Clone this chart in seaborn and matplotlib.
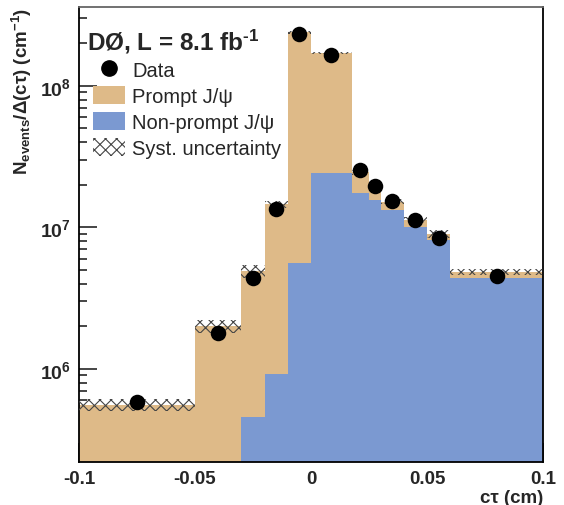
import matplotlib
matplotlib.use("Agg")
import matplotlib.pyplot as plt
import numpy as np
import pandas as pd
import seaborn as sns
from matplotlib.patches import Patch
from matplotlib.lines import Line2D
from matplotlib.ticker import MultipleLocator, LogLocator, FuncFormatter, NullFormatter

# ---- values ----
bin_edges = [-0.1, -0.05, -0.03, -0.02, -0.01, 0.0, 0.0175, 0.025, 0.03, 0.04, 0.05, 0.06, 0.1]
nonprompt = [0, 0, 4.56e5, 9.2e5, 5.6e6, 2.43e7, 1.75e7, 1.55e7, 1.32e7, 1.01e7, 8.2e6, 4.40e6]
prompt = [5.6e5, 2.0e6, 4.44e6, 1.36e7, 2.33e8, 1.46e8, 7.0e6, 4.2e6, 2.0e6, 1.2e6, 8.0e5, 4.5e5]
syst_frac = [0.10, 0.10, 0.10, 0.06, 0.02, 0.02, 0.04, 0.04, 0.04, 0.05, 0.06, 0.05]
data_vals = [5.8e5, 1.80e6, 4.37e6, 1.35e7, 2.33e8, 1.66e8, 2.55e7, 1.96e7, 1.53e7, 1.13e7, 8.44e6, 4.54e6]

TAN = "#DEBA88"
BLUE = "#7B99D1"
HATCH = "#444444"

sns.set_style("ticks")
plt.rcParams["font.family"] = ["Liberation Sans", "DejaVu Sans"]
plt.rcParams["mathtext.fontset"] = "custom"
plt.rcParams["mathtext.rm"] = "Liberation Sans:bold"
plt.rcParams["mathtext.it"] = "Liberation Sans:bold"
plt.rcParams["mathtext.bf"] = "Liberation Sans:bold"
plt.rcParams["mathtext.default"] = "rm"
plt.rcParams["hatch.linewidth"] = 0.8

edges = np.array(bin_edges)
centers = 0.5 * (edges[:-1] + edges[1:])
widths = np.diff(edges)
total = np.array(prompt) + np.array(nonprompt)

df = pd.DataFrame({
    "ctau": np.concatenate([centers, centers]),
    "w": np.concatenate([prompt, nonprompt]),
    "comp": ["Prompt"] * len(centers) + ["Non-prompt"] * len(centers),
})

fig, ax = plt.subplots(figsize=(5.64, 5.06), dpi=100)
fig.subplots_adjust(left=0.140, right=0.963, bottom=0.085, top=0.984)
ax.set_yscale("log")

# non-prompt ends up at the bottom of the stack (last hue level)
sns.histplot(
    data=df, x="ctau", weights="w", hue="comp", hue_order=["Prompt", "Non-prompt"],
    bins=list(bin_edges), multiple="stack", element="bars", stat="count",
    palette={"Prompt": TAN, "Non-prompt": BLUE}, alpha=1, linewidth=0,
    legend=False, ax=ax,
)

# systematic band
s = np.array(syst_frac)
ax.bar(edges[:-1], total * 2 * s, bottom=total * (1 - s), width=widths, align="edge",
       fill=False, hatch="xxx", edgecolor=HATCH, linewidth=0, zorder=3)

sns.scatterplot(x=centers, y=data_vals, color="black", s=125, edgecolor="black",
                linewidth=0, zorder=4, ax=ax)

ax.set_xlim(-0.1, 0.1)
ax.set_ylim(2.2e5, 3.6e8)

ax.xaxis.set_minor_locator(MultipleLocator(0.005))
ax.set_xticks([-0.1, -0.05, 0, 0.05, 0.1])
ax.set_xticklabels(["-0.1", "-0.05", "0", "0.05", "0.1"])
ax.yaxis.set_major_locator(LogLocator(base=10))
ax.yaxis.set_minor_locator(LogLocator(base=10, subs=np.arange(2, 10)))
ax.yaxis.set_major_formatter(FuncFormatter(lambda v, p: f"$10^{{{int(round(np.log10(v)))}}}$"))
ax.yaxis.set_minor_formatter(NullFormatter())
ax.tick_params(axis="both", which="both", direction="in", top=False, right=False,
               width=1.2, pad=6)
ax.tick_params(axis="y", which="major", length=13, labelsize=14)
ax.tick_params(axis="y", which="minor", length=6)
ax.tick_params(axis="x", which="major", length=14, labelsize=13.5)
ax.tick_params(axis="x", which="minor", length=5)
for lab in ax.get_xticklabels():
    lab.set_fontweight("bold")

for sp in ax.spines.values():
    sp.set_linewidth(1.3)
    sp.set_color("black")
ax.spines["top"].set_color("#666666")

ax.set_xlabel("c\u03c4 (cm)", fontsize=13.5, fontweight="bold", loc="right", labelpad=1)
ax.set_ylabel("N$_{events}$/\u0394(c\u03c4) (cm$^{-1}$)", fontsize=13.5, fontweight="bold",
              loc="top", labelpad=4)

ax.text(0.017, 0.925, "D\u00d8, L = 8.1 fb$^{\u2010 1}$", transform=ax.transAxes,
        fontsize=17.5, fontweight="bold", ha="left", va="center")

handles = [
    Line2D([], [], marker="o", color="black", linestyle="none", markersize=11),
    Patch(facecolor=TAN, edgecolor="none"),
    Patch(facecolor=BLUE, edgecolor="none"),
    Patch(facecolor="white", edgecolor=HATCH, hatch="xxx", linewidth=0),
]
labels = ["Data", "Prompt J/\u03c8", "Non-prompt J/\u03c8", "Syst. uncertainty"]
ax.legend(handles, labels, loc="upper left", bbox_to_anchor=(0.0, 0.915), frameon=False,
          fontsize=14.5, handlelength=1.6, handleheight=1.0, handletextpad=0.35,
          labelspacing=0.3, borderaxespad=0.3)

fig.savefig("out.png", dpi=100)
plt.close(fig)
